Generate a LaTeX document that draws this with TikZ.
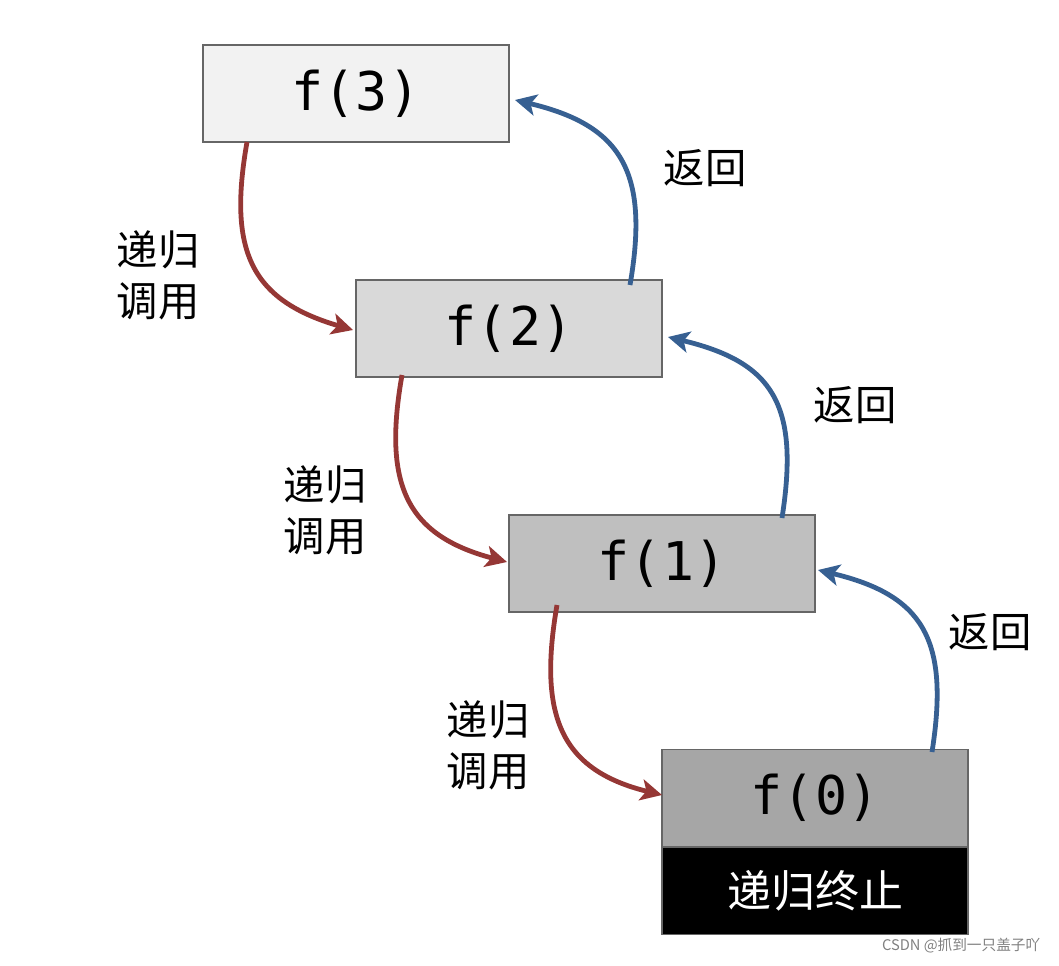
\documentclass[tikz,border=0pt]{standalone}
\usepackage{fontspec}
\newfontfamily\cjk{Noto Sans CJK SC}
\newfontfamily\mono{DejaVu Sans Mono}
\usetikzlibrary{arrows.meta}
\definecolor{rd}{HTML}{953735}
\definecolor{bl}{HTML}{376092}
\begin{document}
\begin{tikzpicture}[x=0.75pt,y=-0.75pt,
  box/.style={draw=gray!80!black,line width=0.8pt,minimum width=229.5pt,minimum height=72.75pt,inner sep=0pt,font=\mono\fontsize{40}{40}\selectfont},
  lab/.style={font=\cjk\fontsize{31}{38}\selectfont,align=center},
  rarr/.style={draw=rd,line width=3.6pt,-{Stealth[length=16pt,width=16pt,inset=4pt]}},
  barr/.style={draw=bl,line width=3.6pt,-{Stealth[length=16pt,width=16pt,inset=4pt]}}]
\useasboundingbox (0,0) rectangle (1059,966);
\node[box,fill=black!5] (f3) at (356,93.5) {f(3)};
\node[box,fill=black!15] (f2) at (509,328.5) {f(2)};
\node[box,fill=black!25] (f1) at (662,563.5) {f(1)};
\node[box,fill=black!35] (f0) at (815,798) {f(0)};
\node[box,fill=black,text=white,minimum height=65pt,font=\cjk\fontsize{33}{33}\selectfont,anchor=north] (end) at (f0.south) {递归终止};
\coordinate (a1) at (247,142); \coordinate (b1) at (353,330);
\coordinate (a2) at (402,375); \coordinate (b2) at (507,562);
\coordinate (a3) at (557,605); \coordinate (b3) at (662,795);
\coordinate (c1) at (630,285); \coordinate (d1) at (515,100);
\coordinate (c2) at (782,518); \coordinate (d2) at (668,337);
\coordinate (c3) at (932,752); \coordinate (d3) at (818,570);
\draw[rarr] (a1) .. controls (228,250) and (250,300) .. (b1);
\draw[rarr] (a2) .. controls (383,483) and (405,535) .. (b2);
\draw[rarr] (a3) .. controls (538,715) and (560,770) .. (b3);
\draw[barr] (c1) .. controls (650,170) and (620,125) .. (d1);
\draw[barr] (c2) .. controls (800,403) and (772,362) .. (d2);
\draw[barr] (c3) .. controls (950,638) and (922,595) .. (d3);
\node[lab] (l1) at (158,275) {递归\\调用};
\node[lab] (l2) at (325,510) {递归\\调用};
\node[lab] (l3) at (488,745) {递归\\调用};
\node[lab] (r1) at (705,168) {返回};
\node[lab] (r2) at (855,405) {返回};
\node[lab] (r3) at (990,632) {返回};
\node[font=\cjk\fontsize{11}{11}\selectfont,text=gray,anchor=east] (wm) at (1045,946) {CSDN @抓到一只盖子吖};
\end{tikzpicture}
\end{document}
